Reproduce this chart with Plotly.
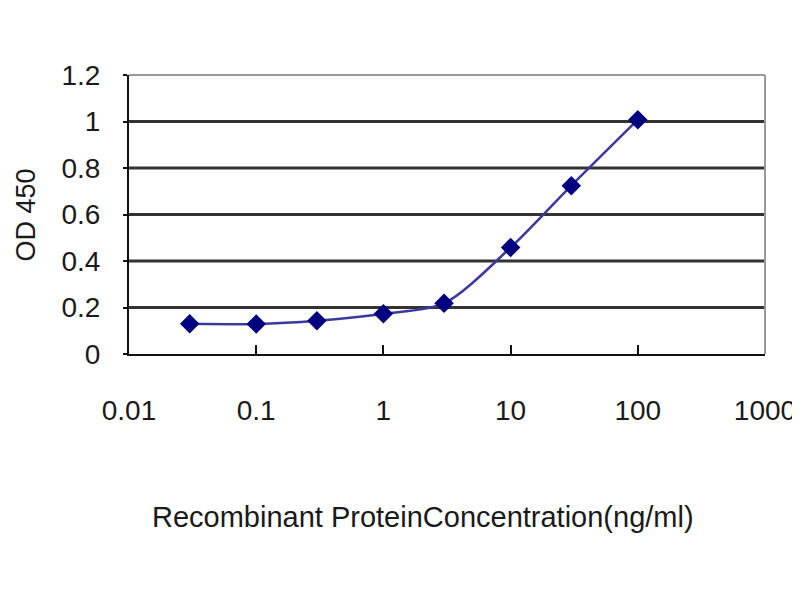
import plotly.graph_objects as go

concentration = [0.03, 0.1, 0.3, 1, 3, 10, 30, 100]
od450 = [0.130, 0.129, 0.143, 0.173, 0.218, 0.458, 0.724, 1.008]

y_ticks = [0, 0.2, 0.4, 0.6, 0.8, 1.0, 1.2]
y_tick_labels = ["0", "0.2", "0.4", "0.6", "0.8", "1", "1.2"]
y_grid = [0.2, 0.4, 0.6, 0.8, 1.0]
x_ticks = [0.01, 0.1, 1, 10, 100, 1000]
x_tick_labels = ["0.01", "0.1", "1", "10", "100", "1000"]

FONT = "Liberation Sans, Arial, sans-serif"

fig = go.Figure()
fig.add_trace(go.Scatter(
    x=concentration, y=od450, mode="lines+markers",
    line=dict(color="#3a3a9e", width=2.5, shape="spline", smoothing=0.8),
    marker=dict(symbol="diamond", size=15, color="#000080"),
    showlegend=False,
))

shapes = []
for g in y_grid:
    shapes.append(dict(type="line", xref="paper", x0=0, x1=1, yref="y", y0=g, y1=g,
                       line=dict(color="#333333", width=3), layer="below"))
# top and right border (gray)
shapes.append(dict(type="line", xref="paper", yref="paper", x0=0, x1=1, y0=1, y1=1,
                   line=dict(color="#9a9a9a", width=2), layer="below"))
shapes.append(dict(type="line", xref="paper", yref="paper", x0=1, x1=1, y0=0, y1=1,
                   line=dict(color="#9a9a9a", width=2), layer="below"))

fig.update_layout(
    width=800, height=600,
    margin=dict(l=121, r=43, t=67, b=254),
    paper_bgcolor="white", plot_bgcolor="white",
    font=dict(family=FONT, size=28, color="#1a1a1a"),
    shapes=shapes,
    xaxis=dict(
        type="log", range=[-2, 3],
        tickvals=x_ticks, ticktext=x_tick_labels,
        showgrid=False, zeroline=False,
        showline=True, linecolor="#111111", linewidth=2,
        ticks="inside", ticklen=9, tickwidth=2, tickcolor="#111111",
        ticklabelstandoff=30,
        tickfont=dict(size=28),
    ),
    yaxis=dict(
        range=[0, 1.2],
        tickvals=y_ticks, ticktext=y_tick_labels,
        showgrid=False, zeroline=False,
        showline=True, linecolor="#111111", linewidth=2,
        ticks="outside", ticklen=4, tickwidth=2, tickcolor="#111111",
        ticklabelstandoff=17,
        tickfont=dict(size=28),
    ),
    annotations=[
        dict(text="OD 450", xref="paper", yref="paper", x=-0.162, y=0.5,
             xanchor="center", yanchor="middle", textangle=-90, showarrow=False,
             font=dict(size=27)),
        dict(text="Recombinant ProteinConcentration(ng/ml)", xref="paper", yref="paper",
             x=0.462, y=-0.585, xanchor="center", yanchor="middle", showarrow=False,
             font=dict(size=29)),
    ],
)

fig.write_html("out.html")
